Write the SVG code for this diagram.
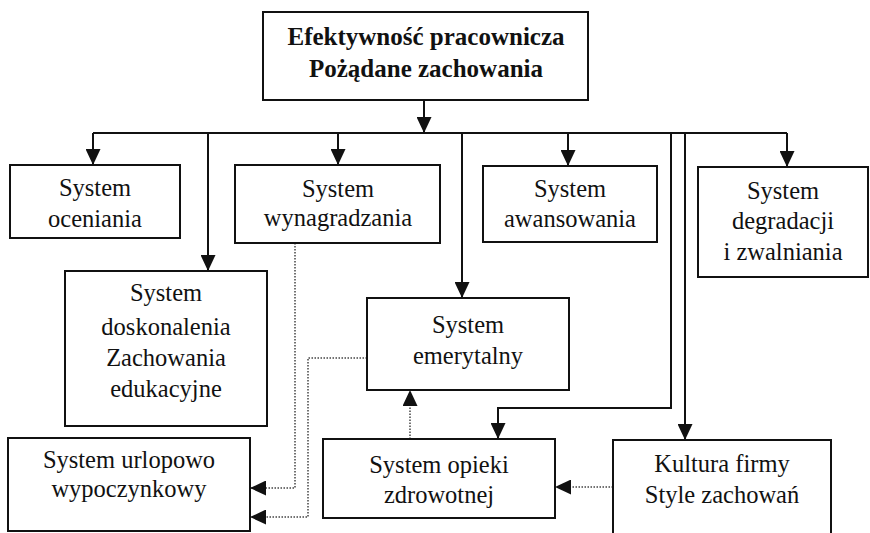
<svg xmlns="http://www.w3.org/2000/svg" width="870" height="533" viewBox="0 0 870 533">
  <style>
    .box { fill: #ffffff; stroke: #111111; stroke-width: 2; }
    text { font-family: 'Liberation Serif', 'Times New Roman', 'DejaVu Serif', serif; fill: #111111; text-anchor: middle; }
    .lbl { font-size: 24.5px; }
    .ttl { font-size: 25px; font-weight: bold; }
    .solid { fill: none; stroke: #111111; stroke-width: 2; }
    .dot { fill: none; stroke: #444444; stroke-width: 1.5; stroke-dasharray: 1.5 1.5; }
  </style>
  <defs>
    <marker id="head" viewBox="0 0 16 15" refX="16" refY="7.5" markerWidth="17" markerHeight="15" markerUnits="userSpaceOnUse" orient="auto">
      <path d="M0,0 L16,7.5 L0,15 z" fill="#111111"/>
    </marker>
  </defs>

  <rect width="870" height="533" fill="#ffffff"/>

  <!-- connectors -->
  <g id="connectors">
    <path class="solid" d="M424,100 V133" marker-end="url(#head)"/>
    <path class="solid" d="M93,133 H787"/>
    <path class="solid" d="M93,133 V165" marker-end="url(#head)"/>
    <path class="solid" d="M208,133 V271" marker-end="url(#head)"/>
    <path class="solid" d="M338,133 V165" marker-end="url(#head)"/>
    <path class="solid" d="M462,133 V298" marker-end="url(#head)"/>
    <path class="solid" d="M568,133 V166" marker-end="url(#head)"/>
    <path class="solid" d="M787,133 V167" marker-end="url(#head)"/>
    <path class="solid" d="M671,133 V408 H498 V439" marker-end="url(#head)"/>
    <path class="solid" d="M685,133 V440" marker-end="url(#head)"/>
    <path class="dot" d="M295,243 V488 H250" marker-end="url(#head)"/>
    <path class="dot" d="M367,358 H308 V517 H250" marker-end="url(#head)"/>
    <path class="dot" d="M410,439 V390" marker-end="url(#head)"/>
    <path class="dot" d="M613,487 H555" marker-end="url(#head)"/>
  </g>

  <g id="efektywnosc">
    <rect class="box" x="263" y="12" width="325" height="88"/>
    <text class="ttl" x="426" y="45">Efektywność pracownicza</text>
    <text class="ttl" x="426" y="77">Pożądane zachowania</text>
  </g>

  <g id="ocenianie">
    <rect class="box" x="10" y="165" width="170" height="73"/>
    <text class="lbl" x="95" y="196">System</text>
    <text class="lbl" x="95" y="227">oceniania</text>
  </g>

  <g id="wynagradzanie">
    <rect class="box" x="235" y="165" width="205" height="78"/>
    <text class="lbl" x="338" y="197">System</text>
    <text class="lbl" x="338" y="226">wynagradzania</text>
  </g>

  <g id="awansowanie">
    <rect class="box" x="483" y="166" width="174" height="76"/>
    <text class="lbl" x="570" y="197">System</text>
    <text class="lbl" x="570" y="227">awansowania</text>
  </g>

  <g id="degradacja">
    <rect class="box" x="698" y="167" width="170" height="110"/>
    <text class="lbl" x="783" y="199">System</text>
    <text class="lbl" x="783" y="229">degradacji</text>
    <text class="lbl" x="783" y="260">i zwalniania</text>
  </g>

  <g id="doskonalenie">
    <rect class="box" x="65" y="271" width="202" height="155"/>
    <text class="lbl" x="166" y="301">System</text>
    <text class="lbl" x="166" y="335">doskonalenia</text>
    <text class="lbl" x="166" y="366">Zachowania</text>
    <text class="lbl" x="166" y="397">edukacyjne</text>
  </g>

  <g id="emerytalny">
    <rect class="box" x="367" y="298" width="202" height="92"/>
    <text class="lbl" x="468" y="333">System</text>
    <text class="lbl" x="468" y="364">emerytalny</text>
  </g>

  <g id="urlopowy">
    <rect class="box" x="8" y="438" width="242" height="93"/>
    <text class="lbl" x="129" y="468">System urlopowo</text>
    <text class="lbl" x="129" y="497">wypoczynkowy</text>
  </g>

  <g id="opieka">
    <rect class="box" x="323" y="439" width="232" height="79"/>
    <text class="lbl" x="439" y="473">System opieki</text>
    <text class="lbl" x="439" y="503">zdrowotnej</text>
  </g>

  <g id="kultura">
    <rect class="box" x="613" y="440" width="218" height="100"/>
    <text class="lbl" x="722" y="472">Kultura firmy</text>
    <text class="lbl" x="722" y="503">Style zachowań</text>
  </g>
</svg>
